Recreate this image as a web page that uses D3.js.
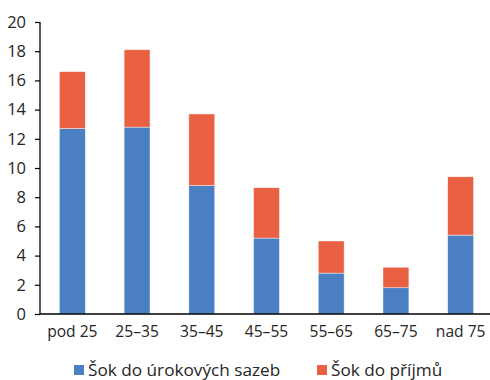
<!DOCTYPE html>
<html>
<head>
<meta charset="utf-8">
<script src="https://cdn.jsdelivr.net/npm/d3@7"></script>
<style>
  html, body { margin: 0; padding: 0; background: #fff; }
  svg text { font-family: "Open Sans", "Noto Sans", sans-serif; fill: #262626; }
</style>
</head>
<body>
<svg id="chart" width="490" height="380"></svg>
<script>
// Age groups and the two stacked shock components
const categories = ["pod 25", "25–35", "35–45", "45–55", "55–65", "65–75", "nad 75"];
const rateShock = [12.7, 12.8, 8.8, 5.2, 2.8, 1.8, 5.4];
const incomeShock = [3.9, 5.3, 4.9, 3.45, 2.2, 1.4, 4.0];
const seriesNames = ["Šok do úrokových sazeb", "Šok do příjmů"];
const yTicks = [0, 2, 4, 6, 8, 10, 12, 14, 16, 18, 20];

const colors = ["#4a7fc2", "#e96142"];

const svg = d3.select("#chart");
const plotLeft = 40, plotRight = 493, plotTop = 22, plotBottom = 314;

const x = d3.scaleBand().domain(categories).range([plotLeft, plotRight]).paddingInner(0.6).paddingOuter(0.3);
const y = d3.scaleLinear().domain([0, 20]).range([plotBottom, plotTop]);

const rows = categories.map((c, i) => ({ cat: c, rate: rateShock[i], income: incomeShock[i] }));
const stacked = d3.stack().keys(["rate", "income"])(rows);

// Bars
svg.append("g").selectAll("g")
  .data(stacked)
  .join("g")
  .attr("fill", (d, i) => colors[i])
  .selectAll("rect")
  .data(d => d)
  .join("rect")
  .attr("x", d => x(d.data.cat))
  .attr("width", x.bandwidth())
  .attr("y", d => y(d[1]))
  .attr("height", d => y(d[0]) - y(d[1]))
  .attr("stroke", "#ffffff")
  .attr("stroke-opacity", 0.6)
  .attr("stroke-width", 0.7);

// Y axis
const yAxis = svg.append("g")
  .attr("transform", `translate(${plotLeft},0)`)
  .call(d3.axisLeft(y).tickValues(yTicks).tickSize(5).tickPadding(9));
yAxis.select(".domain").attr("stroke", "#000").attr("stroke-width", 1.3).attr("d", `M0,${plotTop}V${plotBottom}`);
yAxis.selectAll(".tick line").attr("stroke", "#000").attr("stroke-width", 1.2);
yAxis.selectAll("text").attr("font-size", 16.5);

// X axis
const xAxis = svg.append("g")
  .attr("transform", `translate(0,${plotBottom})`)
  .call(d3.axisBottom(x).tickSize(0).tickPadding(12));
xAxis.select(".domain").attr("stroke", "#000").attr("stroke-width", 1.3).attr("d", `M${plotLeft},0H490`);
xAxis.selectAll("text").attr("font-size", 15.6).attr("dy", "0.71em");

// Legend
const legendX = [74, 317];
const legend = svg.append("g").selectAll("g")
  .data(seriesNames)
  .join("g")
  .attr("transform", (d, i) => `translate(${legendX[i]},365)`);
legend.append("rect").attr("width", 10).attr("height", 10).attr("y", 0).attr("fill", (d, i) => colors[i]);
legend.append("text").attr("x", 14).attr("y", 5).attr("dy", "0.35em").attr("font-size", 17.2).text(d => d);
</script>
</body>
</html>
